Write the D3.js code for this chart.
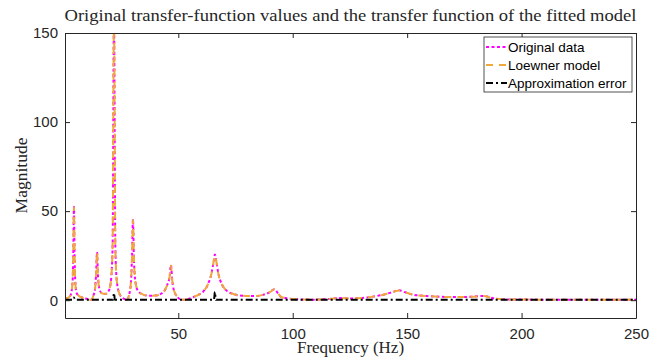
<!DOCTYPE html>
<html>
<head>
<meta charset="utf-8">
<script src="https://cdn.jsdelivr.net/npm/d3@7"></script>
<style>
  body { margin: 0; background: #fff; }
  .tick text { font-family: "Liberation Sans", Arial, sans-serif; font-size: 15px; fill: #262626; }
  .tick line { stroke: #262626; }
  .serif { font-family: "Liberation Serif", "DejaVu Serif", serif; fill: #262626; }
</style>
</head>
<body>
<div id="vis"></div>
<script>
const frame_width = 661;
const frame_height = 358;
const margins = {left: 65, right: 25, top: 33, bottom: 40};

// frequency samples (Hz)
const freqs = [0.5, 1, 2, 3, 3.8, 4.1, 4.4, 4.7, 5.0, 5.6, 6.5, 8, 10, 12, 13, 13.6, 14.1, 14.5, 14.9, 15.5, 16.5,
  18, 19.5, 20.5, 21.3, 21.9, 22.5, 23.2, 24.5, 26, 27.5, 28.5, 29.3, 29.8, 30.2, 30.6, 31.3, 32.5, 34, 37,
  40, 43, 45, 46.3, 46.8, 47.3, 48, 49.5, 51, 53, 55, 58, 61, 63, 64.5, 65.5, 66, 66.6, 67.5, 69, 71, 74,
  78, 83, 87, 90, 92, 93.5, 95, 98, 102, 108, 115, 120, 125, 130, 135, 140, 144, 146.5, 149, 153, 160, 170,
  178, 183, 188, 195, 210, 230, 250];

// magnitude of original transfer-function values
const original_mag = [1, 1, 1.5, 3, 10, 25, 52.5, 25, 10, 4, 2.5, 1.5, 0.8, 0.2, 3, 6, 15, 27, 14, 6.5, 4,
  3.5, 5, 10, 30, 160, 30, 10, 3, 1, 0.2, 3, 10, 25, 45.4, 24, 10, 5, 3.5, 2.5,
  2.6, 4, 8, 14, 19.7, 12, 6, 2, 0.5, 0.2, 1, 2.5, 5, 9, 15, 22, 25.7, 22, 15, 9, 5.5, 3.5,
  2.5, 2.3, 3, 4.5, 6.2, 4, 1.8, 1, 0.5, 0.3, 0.6, 1.2, 1, 1.2, 2, 3.2, 4.7, 5.6, 4.5, 3, 2.2, 1.8,
  1.9, 2.4, 1, 0.4, 0.3, 0.3, 0.3];

// magnitude of the fitted Loewner model
const loewner_mag = [1, 1, 1.5, 3, 10, 25, 52, 25, 10, 4, 2.5, 1.5, 0.8, 0.2, 3, 6, 15, 27, 14, 6.5, 4,
  3.5, 5, 10, 30, 156, 30, 10, 3, 1, 0.2, 3, 10, 25, 45, 24, 10, 5, 3.5, 2.5,
  2.6, 4, 8, 14, 19.5, 12, 6, 2, 0.5, 0.2, 1, 2.5, 5, 9, 15, 22, 25, 22, 15, 9, 5.5, 3.5,
  2.5, 2.3, 3, 4.5, 6.1, 4, 1.8, 1, 0.5, 0.3, 0.6, 1.2, 1, 1.2, 2, 3.2, 4.7, 5.5, 4.5, 3, 2.2, 1.8,
  1.9, 2.3, 1, 0.4, 0.3, 0.3, 0.3];

// approximation error
const error_freqs = [0.5, 4.0, 4.4, 4.8, 21.5, 21.9, 22.3, 65.6, 66, 66.4, 250];
const error_mag = [0.2, 0.2, 1.5, 0.2, 0.2, 4, 0.2, 0.2, 4.7, 0.2, 0.2];

const x_ticks = [50, 100, 150, 200, 250];
const y_ticks = [0, 50, 100, 150];

const series = [
  {name: "Original data", x: freqs, y: original_mag, color: "#ff00ff", dash: "3,2.5"},
  {name: "Loewner model", x: freqs, y: loewner_mag, color: "#efa83a", dash: "7,6"},
  {name: "Approximation error", x: error_freqs, y: error_mag, color: "#000000", dash: "7,3,2,3"}
];

const FRAME = d3.select("#vis")
  .append("svg")
    .attr("width", frame_width)
    .attr("height", frame_height);

const X_SCALE = d3.scaleLinear()
  .domain([0.5, 250])
  .range([margins.left, frame_width - margins.right]);

const Y_SCALE = d3.scaleLinear()
  .domain([-10, 150])
  .range([frame_height - margins.bottom, margins.top]);

const plot_w = frame_width - margins.left - margins.right;
const plot_h = frame_height - margins.top - margins.bottom;

FRAME.append("clipPath").attr("id", "clip")
  .append("rect")
    .attr("x", margins.left).attr("y", margins.top)
    .attr("width", plot_w).attr("height", plot_h);

// lines
const plot = FRAME.append("g").attr("clip-path", "url(#clip)");
series.forEach(s => {
  const pts = s.x.map((f, i) => [f, s.y[i]]);
  plot.append("path")
    .datum(pts)
    .attr("fill", "none")
    .attr("stroke", s.color)
    .attr("stroke-width", 2)
    .attr("stroke-dasharray", s.dash)
    .attr("d", d3.line().x(d => X_SCALE(d[0])).y(d => Y_SCALE(d[1])).curve(d3.curveMonotoneX));
});

// axes (ticks inside, box on)
const axis_bottom = FRAME.append("g")
  .attr("transform", "translate(0," + (frame_height - margins.bottom) + ")")
  .call(d3.axisBottom(X_SCALE).tickValues(x_ticks).tickSizeInner(-5).tickSizeOuter(0).tickPadding(10));
const axis_top = FRAME.append("g")
  .attr("transform", "translate(0," + margins.top + ")")
  .call(d3.axisTop(X_SCALE).tickValues(x_ticks).tickSizeInner(-5).tickSizeOuter(0).tickFormat(""));
const axis_left = FRAME.append("g")
  .attr("transform", "translate(" + margins.left + ",0)")
  .call(d3.axisLeft(Y_SCALE).tickValues(y_ticks).tickSizeInner(-5).tickSizeOuter(0).tickPadding(7));
const axis_right = FRAME.append("g")
  .attr("transform", "translate(" + (frame_width - margins.right) + ",0)")
  .call(d3.axisRight(Y_SCALE).tickValues(y_ticks).tickSizeInner(-5).tickSizeOuter(0).tickFormat(""));
[axis_bottom, axis_top, axis_left, axis_right].forEach(a => a.select(".domain").attr("stroke", "#262626"));

// titles
FRAME.append("text")
  .attr("class", "serif")
  .attr("x", margins.left + plot_w / 2)
  .attr("y", 21)
  .attr("text-anchor", "middle")
  .attr("font-size", "17px")
  .attr("textLength", 572)
  .attr("lengthAdjust", "spacingAndGlyphs")
  .text("Original transfer-function values and the transfer function of the fitted model");

FRAME.append("text")
  .attr("class", "serif")
  .attr("x", margins.left + plot_w / 2)
  .attr("y", 353)
  .attr("text-anchor", "middle")
  .attr("font-size", "17px")
  .text("Frequency (Hz)");

FRAME.append("text")
  .attr("class", "serif")
  .attr("transform", "translate(27," + (margins.top + plot_h / 2) + ") rotate(-90)")
  .attr("text-anchor", "middle")
  .attr("font-size", "17.5px")
  .text("Magnitude");

// legend
const legend = FRAME.append("g").attr("transform", "translate(484,37)");
legend.append("rect")
  .attr("width", 148).attr("height", 55)
  .attr("fill", "#fff").attr("stroke", "#262626").attr("stroke-width", 0.8);
series.forEach((s, i) => {
  const y = 10 + i * 18;
  legend.append("line")
    .attr("x1", 2).attr("x2", 23).attr("y1", y).attr("y2", y)
    .attr("stroke", s.color).attr("stroke-width", 2)
    .attr("stroke-dasharray", s.dash);
  legend.append("text")
    .attr("x", 24).attr("y", y + 5)
    .attr("font-family", "Liberation Sans, Arial, sans-serif")
    .attr("font-size", "13.5px")
    .attr("fill", "#000")
    .text(s.name);
});
</script>
</body>
</html>
